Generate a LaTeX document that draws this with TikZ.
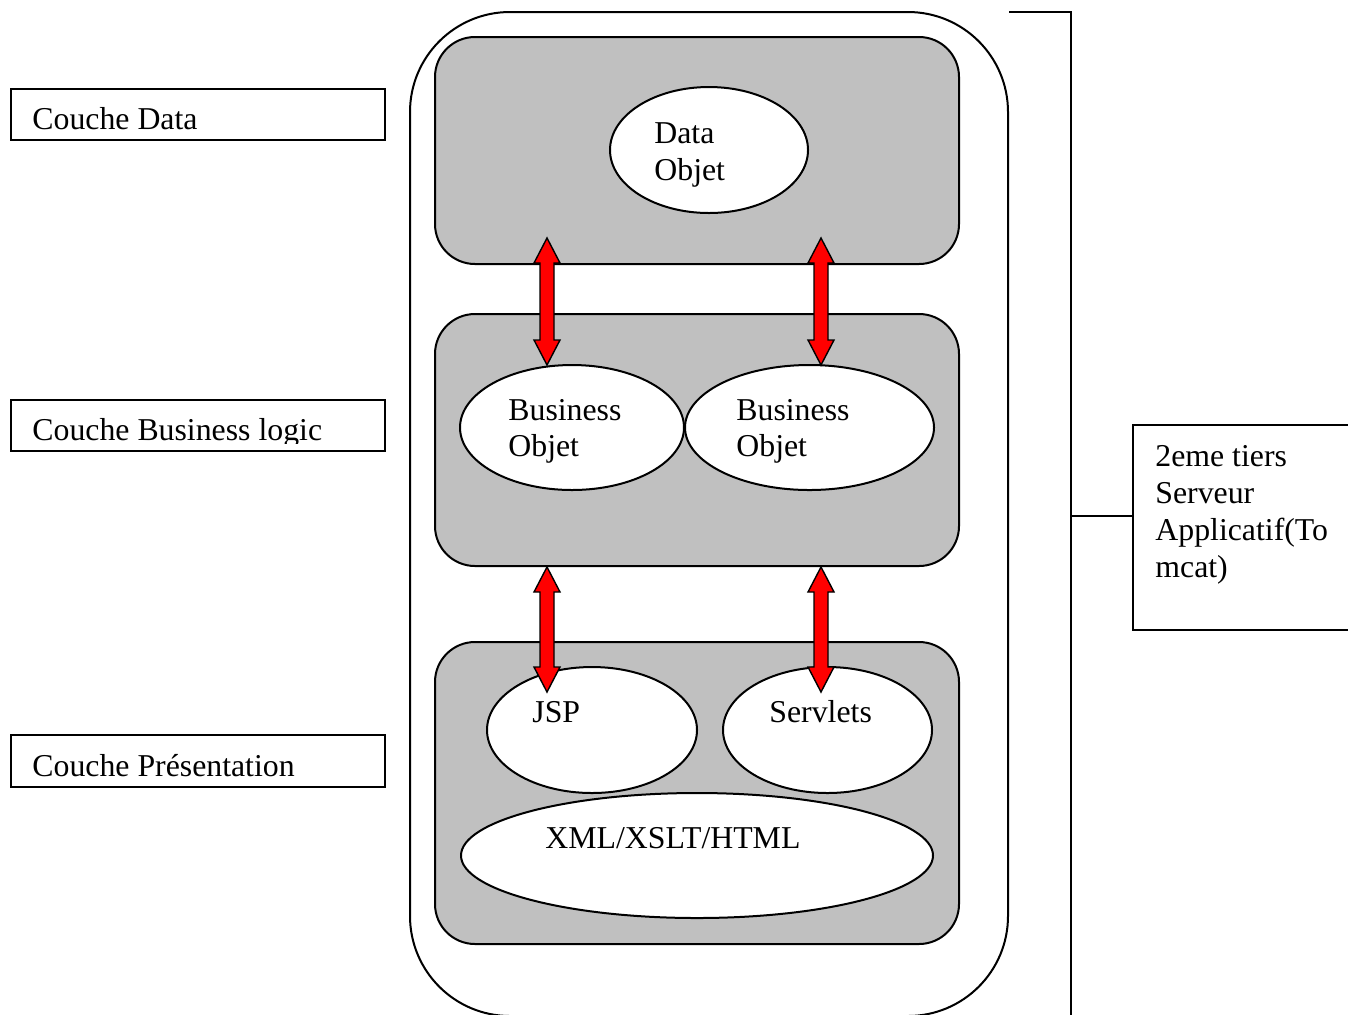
\documentclass[tikz,border=0pt]{standalone}
\usepackage{fontspec}
\setmainfont{Liberation Serif}
\usetikzlibrary{calc,shapes.geometric}
\definecolor{grayfill}{HTML}{C0C0C0}
\newcommand{\fatarrow}[2]{%
  \draw[arrowbody] (#1) -- ($(#1)+(13,25)$) -- ($(#1)+(7,25)$) -- ($(#2)+(7,-25)$) -- ($(#2)+(13,-25)$) -- (#2)
    -- ($(#2)+(-13,-25)$) -- ($(#2)+(-7,-25)$) -- ($(#1)+(-7,25)$) -- ($(#1)+(-13,25)$) -- cycle;}
\tikzset{
  x=0.5pt, y=-0.5pt,
  lbl/.style={inner sep=0pt, anchor=base west, font={\fontsize{15.9}{18.5}\selectfont}},
  layerbox/.style={draw, line width=1pt, fill=grayfill, rounded corners=20pt, minimum width=262pt},
  obj/.style={draw, line width=1pt, fill=white, ellipse, inner sep=0pt},
  plainbox/.style={draw, line width=1pt, fill=white, rectangle, inner sep=0pt},
  arrowbody/.style={draw=black, line width=0.7pt, fill=red, line join=miter},
  wire/.style={line width=1pt}
}
\begin{document}
\begin{tikzpicture}
\useasboundingbox (0,0) rectangle (1348,1014);
\clip (0,0) rectangle (1348,1014);
\fill[white] (0,0) rectangle (1348,1014);
% outer server box
\node[plainbox, rounded corners=50pt, minimum width=299pt, minimum height=502pt] (outer) at (709,514) {};
% layers
\node[layerbox, minimum height=113.5pt] (ldata) at (697,150.5) {};
\node[layerbox, minimum height=126pt] (lbiz) at (697,440) {};
\node[layerbox, minimum height=151pt] (lpres) at (697,793) {};
% objects
\node[obj, minimum width=99pt, minimum height=63pt] (dataobj) at (709,150) {};
\node[obj, minimum width=112pt, minimum height=62.5pt] (biz1) at (572,427.5) {};
\node[obj, minimum width=124.5pt, minimum height=62.5pt] (biz2) at (809.5,427.5) {};
\node[obj, minimum width=105pt, minimum height=63pt] (jsp) at (592,730) {};
\node[obj, minimum width=104.5pt, minimum height=63pt] (servlets) at (827.5,730) {};
\node[obj, minimum width=236pt, minimum height=62.5pt] (xml) at (697,855.5) {};
% object texts
\node[lbl] (t-data1) at (654,143) {Data};
\node[lbl] (t-data2) at (654,180) {Objet};
\node[lbl] (t-biz1a) at (508,420) {Business};
\node[lbl] (t-biz1b) at (508,456) {Objet};
\node[lbl] (t-biz2a) at (736,420) {Business};
\node[lbl] (t-biz2b) at (736,456) {Objet};
\node[lbl] (t-jsp) at (532,722) {JSP};
\node[lbl] (t-serv) at (769,722) {Servlets};
\node[lbl] (t-xml) at (545,848) {XML/XSLT/HTML};
% arrows
\coordinate (a1t) at (547,238); \coordinate (a1b) at (547,365);
\coordinate (a2t) at (821,238); \coordinate (a2b) at (821,365);
\coordinate (a3t) at (547,567); \coordinate (a3b) at (547,692);
\coordinate (a4t) at (821,567); \coordinate (a4b) at (821,692);
\fatarrow{a1t}{a1b}
\fatarrow{a2t}{a2b}
\fatarrow{a3t}{a3b}
\fatarrow{a4t}{a4b}
% left layer labels
\node[plainbox, minimum width=187pt, minimum height=25.5pt] (bdata) at (198,114.5) {};
\node[plainbox, minimum width=187pt, minimum height=25.5pt] (bbiz) at (198,425.5) {};
\node[plainbox, minimum width=187pt, minimum height=26pt] (bpres) at (198,761) {};
\node[lbl] (t-bdata) at (32,129) {Couche Data};
\begin{scope}
  \clip (12,401) rectangle (384,443);
  \node[lbl] (t-bbiz) at (32,440) {Couche Business logic};
\end{scope}
\node[lbl] (t-bpres) at (32,776) {Couche Présentation};
% right bracket and tier box
\node[plainbox, minimum width=113.5pt, minimum height=102.5pt] (tier) at (1246.5,527.5) {};
\coordinate (brtop) at (1071,12);
\coordinate (brbot) at (1071,1030);
\coordinate (brmid) at (1071,516);
\draw[wire] (outer.north east |- brtop) -- (brtop) -- (brbot);
\draw[wire] (brmid) -- (brmid -| tier.west);
\node[lbl] (t-tier1) at (1155,466) {2eme tiers};
\node[lbl] (t-tier2) at (1155,503) {Serveur};
\node[lbl] (t-tier3) at (1155,540) {Applicatif(To};
\node[lbl] (t-tier4) at (1155,577) {mcat)};
\end{tikzpicture}
\end{document}
